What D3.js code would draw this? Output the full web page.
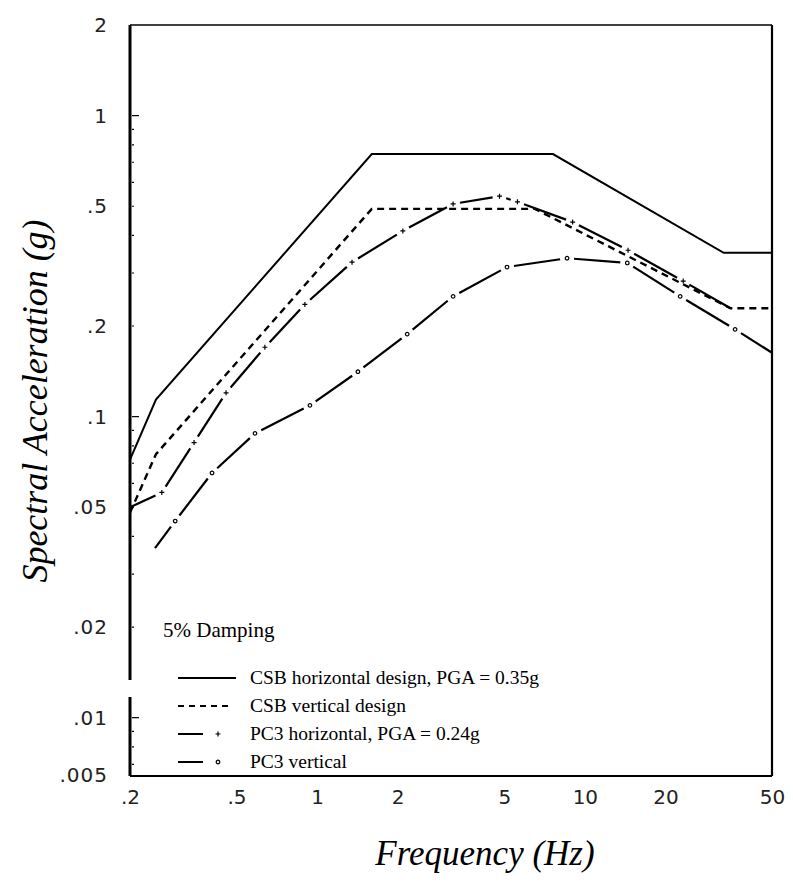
<!DOCTYPE html>
<html>
<head>
<meta charset="utf-8">
<script src="https://cdn.jsdelivr.net/npm/d3@7"></script>
<style>
  body { margin: 0; background: #fff; }
  .tick text { font-family: "DejaVu Sans", sans-serif; font-size: 20px; fill: #222; }
  .y-ticks .tick text { letter-spacing: 1px; }
</style>
</head>
<body>
<div id="chart"></div>
<script>
// axis ticks
const freqTicks = [0.2, 0.5, 1, 2, 5, 10, 20, 50];
const accelTicks = [2, 1, 0.5, 0.2, 0.1, 0.05, 0.02, 0.01];

// [frequency Hz, spectral acceleration g]
const csbHorizontal = [[0.2, 0.072], [0.25, 0.114], [1.6, 0.745], [7.6, 0.745], [33, 0.35], [50, 0.35]];
const csbVertical = [[0.2, 0.048], [0.25, 0.075], [1.6, 0.49], [6.5, 0.49], [35, 0.229], [50, 0.229]];
const pc3Horizontal = [
  [0.2, 0.05], [0.263, 0.056], [0.347, 0.082], [0.457, 0.12], [0.638, 0.17], [0.9, 0.236],
  [1.35, 0.326], [2.09, 0.414], [3.22, 0.509], [4.8, 0.54], [5.6, 0.517], [9.0, 0.443],
  [14.5, 0.357], [23.3, 0.282], [35, 0.229]
];
const pc3Vertical = [
  [0.248, 0.0366], [0.295, 0.045], [0.405, 0.065], [0.586, 0.088], [0.94, 0.109], [1.42, 0.141],
  [2.17, 0.188], [3.22, 0.251], [5.12, 0.314], [8.58, 0.336], [14.4, 0.324], [22.7, 0.251],
  [36.4, 0.195], [50, 0.163]
];

const seriesNames = [
  "CSB horizontal design, PGA = 0.35g",
  "CSB vertical design",
  "PC3 horizontal, PGA = 0.24g",
  "PC3 vertical"
];

const width = 793;
const height = 893;
const frame = { left: 130, right: 772, top: 25, bottom: 776 };

const x = d3.scaleLog().domain([0.2, 50]).range([frame.left, frame.right]);
const y = d3.scaleLog().domain([0.0064, 2]).range([frame.bottom, frame.top]);

const fmt = (d) => (d < 1 ? String(d).replace(/^0/, "") : String(d));

const svg = d3.select("#chart").append("svg")
  .attr("width", width)
  .attr("height", height);

// frame
const frameG = svg.append("g").attr("fill", "none").attr("stroke", "#000");
frameG.append("line")
  .attr("x1", frame.left).attr("x2", frame.right)
  .attr("y1", frame.top).attr("y2", frame.top)
  .attr("stroke-width", 1.5);
frameG.append("line")
  .attr("x1", frame.right).attr("x2", frame.right)
  .attr("y1", frame.top).attr("y2", frame.bottom)
  .attr("stroke-width", 2.2);
frameG.append("line")
  .attr("x1", frame.left).attr("x2", frame.right)
  .attr("y1", frame.bottom).attr("y2", frame.bottom)
  .attr("stroke-width", 2);
// left spine has a small break in the scan, near the legend
frameG.append("path")
  .attr("d", `M${frame.left},${frame.top}V680M${frame.left},697V${frame.bottom}`)
  .attr("stroke-width", 3);

// minor ticks on the left spine
const minor = [];
for (let dec = 0.001; dec <= 1; dec *= 10) {
  for (let k = 1; k <= 9; k++) {
    const v = +(k * dec).toPrecision(3);
    if (v >= 0.0064 && v < 2) minor.push({ v, major: k === 1 });
  }
}
svg.append("g").selectAll("line").data(minor).join("line")
  .attr("x1", frame.left + 2)
  .attr("x2", (d) => frame.left + (d.major ? 9 : 4))
  .attr("y1", (d) => y(d.v))
  .attr("y2", (d) => y(d.v))
  .attr("stroke", "#000")
  .attr("stroke-width", 1.2);

// axes (labels only)
const xAxisG = svg.append("g")
  .attr("transform", `translate(0,${frame.bottom})`)
  .call(d3.axisBottom(x).tickValues(freqTicks).tickFormat(fmt).tickSize(0).tickPadding(14));
xAxisG.select(".domain").remove();

const yAxisG = svg.append("g")
  .attr("class", "y-ticks")
  .attr("transform", `translate(${frame.left},0)`)
  .call(d3.axisLeft(y).tickValues(accelTicks).tickFormat(fmt).tickSize(0).tickPadding(22));
yAxisG.select(".domain").remove();

// bottom-of-axis label as printed on the original
svg.append("text")
  .attr("x", frame.left - 22)
  .attr("y", frame.bottom)
  .attr("dy", "0.32em")
  .attr("text-anchor", "end")
  .attr("font-family", "DejaVu Sans, sans-serif")
  .attr("font-size", 20)
  .attr("letter-spacing", 1)
  .attr("fill", "#222")
  .text(".005");

// axis titles
svg.append("text")
  .attr("x", 485)
  .attr("y", 865)
  .attr("text-anchor", "middle")
  .attr("font-family", "Liberation Serif, serif")
  .attr("font-style", "italic")
  .attr("font-size", 35)
  .text("Frequency (Hz)");

svg.append("text")
  .attr("transform", "translate(47,401) rotate(-90)")
  .attr("text-anchor", "middle")
  .attr("font-family", "Liberation Serif, serif")
  .attr("font-style", "italic")
  .attr("font-size", 36)
  .text("Spectral Acceleration (g)");

// curves
const line = d3.line().x((d) => x(d[0])).y((d) => y(d[1]));

svg.append("path")
  .datum(csbHorizontal)
  .attr("d", line)
  .attr("fill", "none")
  .attr("stroke", "#000")
  .attr("stroke-width", 2);

svg.append("path")
  .datum(csbVertical)
  .attr("d", line)
  .attr("fill", "none")
  .attr("stroke", "#000")
  .attr("stroke-width", 2.4)
  .attr("stroke-dasharray", "7 5");

// PC3 curves: one dash per segment, broken around each data point marker
function drawMarked(data, marker) {
  const pts = data.map((d) => [x(d[0]), y(d[1])]);
  const gap = 7;
  const g = svg.append("g");
  for (let i = 0; i < pts.length - 1; i++) {
    const [x0, y0] = pts[i];
    const [x1, y1] = pts[i + 1];
    const len = Math.hypot(x1 - x0, y1 - y0);
    const ux = (x1 - x0) / len;
    const uy = (y1 - y0) / len;
    const g0 = i === 0 ? 0 : gap;
    const g1 = i === pts.length - 2 ? 0 : gap;
    g.append("line")
      .attr("x1", x0 + ux * g0).attr("y1", y0 + uy * g0)
      .attr("x2", x1 - ux * g1).attr("y2", y1 - uy * g1)
      .attr("stroke", "#000")
      .attr("stroke-width", 2.2);
  }
  g.selectAll(".mk").data(pts.slice(1, -1)).join("path")
    .attr("class", "mk")
    .attr("transform", (d) => `translate(${d[0]},${d[1]})`)
    .attr("d", marker.d)
    .attr("fill", marker.fill)
    .attr("stroke", "#000")
    .attr("stroke-width", 1.2);
}

const plusMarker = { d: "M-2.5,0H2.5M0,-2.5V2.5", fill: "none" };
const ringMarker = { d: d3.symbol(d3.symbolCircle, 10)(), fill: "none" };

drawMarked(pc3Horizontal, plusMarker);
drawMarked(pc3Vertical, ringMarker);

// legend
const legend = svg.append("g")
  .attr("font-family", "Liberation Serif, serif")
  .attr("fill", "#000");

legend.append("text")
  .attr("x", 163)
  .attr("y", 637)
  .attr("font-size", 21)
  .text("5% Damping");

const rowY = (i) => 678 + i * 28;

legend.selectAll(".lab").data(seriesNames).join("text")
  .attr("class", "lab")
  .attr("x", 250)
  .attr("y", (d, i) => rowY(i))
  .attr("dy", "0.32em")
  .attr("font-size", 19.5)
  .text((d) => d);

legend.append("line")
  .attr("x1", 178).attr("x2", 236).attr("y1", rowY(0)).attr("y2", rowY(0))
  .attr("stroke", "#000").attr("stroke-width", 2);
legend.append("line")
  .attr("x1", 178).attr("x2", 232).attr("y1", rowY(1)).attr("y2", rowY(1))
  .attr("stroke", "#000").attr("stroke-width", 2).attr("stroke-dasharray", "6 5");
[[2, plusMarker], [3, ringMarker]].forEach(([i, m]) => {
  legend.append("line")
    .attr("x1", 178).attr("x2", 203).attr("y1", rowY(i)).attr("y2", rowY(i))
    .attr("stroke", "#000").attr("stroke-width", 2);
  legend.append("path")
    .attr("transform", `translate(218,${rowY(i)})`)
    .attr("d", m.d)
    .attr("fill", "none")
    .attr("stroke", "#000")
    .attr("stroke-width", 1.2);
});
</script>
</body>
</html>
